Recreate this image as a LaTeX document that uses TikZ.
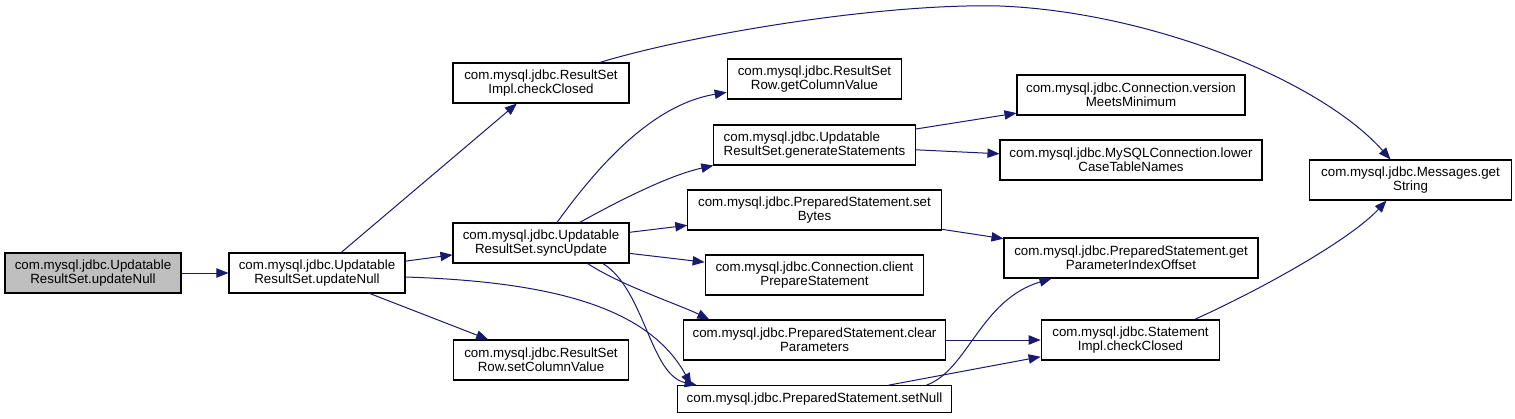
\documentclass[tikz,border=0pt]{standalone}
\usepackage{fontspec}
\setmainfont{Liberation Sans}
\usetikzlibrary{arrows.meta}
\definecolor{midnight}{HTML}{191970}
\definecolor{nodegray}{HTML}{BFBFBF}

\begin{document}
\begin{tikzpicture}[x=0.75pt,y=-0.75pt,
        fn/.style={draw=black,line width=0.8pt,fill=white,align=center,inner sep=1pt,
            minimum height=30pt,font=\fontsize{10}{10.5}\selectfont},
        call/.style={draw=midnight,line width=0.75pt,-{Triangle[length=9pt,width=7pt]}}]
        \useasboundingbox (0,0) rectangle (1515,418);
        % first two columns
        \node[fn,fill=nodegray,minimum width=132pt] (n0) at (93,273) {com.mysql.jdbc.Updatable\\ResultSet.updateNull};
        \node[fn,minimum width=132pt] (n1) at (317,273) {com.mysql.jdbc.Updatable\\ResultSet.updateNull};
        \node[fn,minimum width=132pt] (n2) at (541,83) {com.mysql.jdbc.ResultSet\\Impl.checkClosed};
        \node[fn,minimum width=132pt] (n3) at (541,243) {com.mysql.jdbc.Updatable\\ResultSet.syncUpdate};
        \node[fn,minimum width=131pt] (n9) at (541,360) {com.mysql.jdbc.ResultSet\\Row.setColumnValue};
        % middle column
        \node[fn,minimum width=131pt] (n4) at (814.5,79) {com.mysql.jdbc.ResultSet\\Row.getColumnValue};
        \node[fn,align=left,minimum width=151pt] (n5) at (814.5,145) {com.mysql.jdbc.Updatable\\ResultSet.generateStatements};
        \node[fn,minimum width=190pt] (n6) at (814.5,210) {com.mysql.jdbc.PreparedStatement.set\\Bytes};
        \node[fn,minimum width=164pt] (n7) at (814.5,275) {com.mysql.jdbc.Connection.client\\PrepareStatement};
        \node[fn,minimum width=197pt] (n8) at (814.5,340) {com.mysql.jdbc.PreparedStatement.clear\\Parameters};
        \node[fn,minimum width=206pt,minimum height=20pt] (n10) at (814.5,399) {com.mysql.jdbc.PreparedStatement.setNull};
        % right columns
        \node[fn,minimum width=171pt] (n13) at (1131,95) {com.mysql.jdbc.Connection.version\\MeetsMinimum};
        \node[fn,minimum width=196.5pt] (n14) at (1131,160) {com.mysql.jdbc.MySQLConnection.lower\\CaseTableNames};
        \node[fn,minimum width=190.5pt] (n12) at (1131,258) {com.mysql.jdbc.PreparedStatement.get\\ParameterIndexOffset};
        \node[fn,minimum width=134pt] (n11) at (1130.5,340) {com.mysql.jdbc.Statement\\Impl.checkClosed};
        \node[fn,minimum width=151pt] (n15) at (1410.5,180) {com.mysql.jdbc.Messages.get\\String};
        % straight calls
        \foreach \a/\b in {n0/n1,n1/n2,n1/n3,n1/n9,n3/n6,n3/n7,n5/n13,n5/n14,n6/n12,n8/n11,n10/n11}
        \draw[call] (\a) -- (\b);
        % curved calls
        \draw[call] ([xshift=44pt]n2.north) .. controls (690,35) and (880,3) .. (1000,6)
            .. controls (1150,12) and (1320,80) .. ([xshift=-15pt]n15.north);
        \draw[call] ([yshift=-3pt]n1.east) .. controls (560,282) and (650,310) .. ([xshift=11pt]n10.north west);
        \draw[call] ([xshift=12pt]n3.north) .. controls (595,170) and (650,105) .. ([yshift=-10pt]n4.west);
        \draw[call] ([xshift=29pt]n3.north) .. controls (620,200) and (670,175) .. (n5.south west);
        \draw[call] ([xshift=35pt]n3.south) .. controls (620,285) and (680,305) .. ([xshift=20pt]n8.north west);
        \draw[call] ([xshift=46.5pt]n3.south) .. controls (645,290) and (650,375) .. ([xshift=15pt]n10.north west);
        \draw[call] ([xshift=84pt]n10.north) .. controls (968,370) and (980,300) .. ([xshift=36pt]n12.south west);
        \draw[call] ([xshift=48pt]n11.north) .. controls (1260,290) and (1350,240) .. ([xshift=-18pt]n15.south);
    \end{tikzpicture}
\end{document}
